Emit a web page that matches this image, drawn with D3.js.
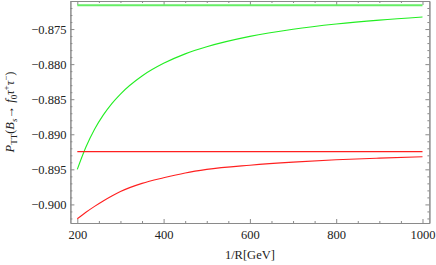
<!DOCTYPE html>
<html>
<head>
<meta charset="utf-8">
<script src="https://cdn.jsdelivr.net/npm/d3@7/dist/d3.min.js"></script>
<style>
    body { margin: 0; background: #fff; }
    svg { display: block; }
    .frame path, .frame line { stroke: #8a8a8a; }
</style>
</head>
<body>
<div id="chart"></div>
<script>
// 1/R in GeV
const greenX = [200, 220, 240, 260, 280, 300, 350, 400, 450, 500, 600, 700, 800, 900, 1000];
const greenY = [-0.89500, -0.89182, -0.88928, -0.88727, -0.88562, -0.88426, -0.88169, -0.87989,
    -0.87854, -0.87752, -0.87604, -0.87503, -0.87429, -0.87373, -0.87329];

const redX = [200, 220, 240, 260, 280, 300, 350, 400, 450, 500, 600, 700, 800, 900, 1000];
const redY = [-0.90204, -0.90112, -0.90028, -0.89951, -0.89880, -0.89816, -0.89700, -0.89620,
    -0.89551, -0.89501, -0.89441, -0.89397, -0.89364, -0.89340, -0.89320];

// flat reference lines
const greenFlat = -0.87161;
const redFlat = -0.89247;

const xTicks = [200, 400, 600, 800, 1000];
const yTicks = [-0.900, -0.895, -0.890, -0.885, -0.880, -0.875];

const serif = '"Liberation Serif", "Times New Roman", "DejaVu Serif", serif';
const width = 436, height = 265;
const margin = {top: 1, right: 6.6, bottom: 42, left: 70.4};

const svg = d3.select('#chart').append('svg')
    .attr('width', width)
    .attr('height', height);

const x = d3.scaleLinear().domain([184, 1016]).range([margin.left, width - margin.right]);
const y = d3.scaleLinear().domain([-0.90265, -0.87100]).range([height - margin.bottom, margin.top]);

const fmtY = d => d3.format('.3f')(d).replace('-', '\u2212');
const xMinor = d3.range(200, 1001, 50).filter(v => v % 200 !== 0);
const yMinor = d3.range(-0.902, -0.8709, 0.001).filter(v => Math.abs(Math.round(v * 1000) % 5) !== 0);

function drawAxis(axis, transform) {
    svg.append('g').attr('class', 'frame').attr('transform', transform).call(axis);
}

const x0 = margin.left, x1 = width - margin.right;
const y0 = height - margin.bottom, y1 = margin.top;

// bottom
drawAxis(d3.axisBottom(x).tickValues(xTicks).tickSizeInner(-4).tickSizeOuter(0).tickPadding(7.5).tickFormat(d3.format('d')), `translate(0,${y0})`);
drawAxis(d3.axisBottom(x).tickValues(xMinor).tickSizeInner(-2).tickSizeOuter(0).tickFormat(''), `translate(0,${y0})`);
// top
drawAxis(d3.axisTop(x).tickValues(xTicks).tickSizeInner(-4).tickSizeOuter(0).tickFormat(''), `translate(0,${y1})`);
drawAxis(d3.axisTop(x).tickValues(xMinor).tickSizeInner(-2).tickSizeOuter(0).tickFormat(''), `translate(0,${y1})`);
// left
drawAxis(d3.axisLeft(y).tickValues(yTicks).tickSizeInner(-4).tickSizeOuter(0).tickPadding(4).tickFormat(fmtY), `translate(${x0},0)`);
drawAxis(d3.axisLeft(y).tickValues(yMinor).tickSizeInner(-2).tickSizeOuter(0).tickFormat(''), `translate(${x0},0)`);
// right
drawAxis(d3.axisRight(y).tickValues(yTicks).tickSizeInner(-4).tickSizeOuter(0).tickFormat(''), `translate(${x1},0)`);
drawAxis(d3.axisRight(y).tickValues(yMinor).tickSizeInner(-2).tickSizeOuter(0).tickFormat(''), `translate(${x1},0)`);

svg.selectAll('.frame')
    .attr('font-family', serif)
    .attr('font-size', 12.5);
svg.selectAll('.frame text').attr('fill', '#222');

const line = d3.line().x(d => x(d[0])).y(d => y(d[1])).curve(d3.curveMonotoneX);

const plot = svg.append('g');

plot.append('path')
    .datum([[200, greenFlat], [1000, greenFlat]])
    .attr('d', line)
    .attr('fill', 'none')
    .attr('stroke', '#66ee66')
    .attr('stroke-width', 2);

plot.append('path')
    .datum(greenX.map((v, i) => [v, greenY[i]]))
    .attr('d', line)
    .attr('fill', 'none')
    .attr('stroke', '#22ee22')
    .attr('stroke-width', 1.1);

plot.append('path')
    .datum([[200, redFlat], [1000, redFlat]])
    .attr('d', line)
    .attr('fill', 'none')
    .attr('stroke', '#ff2020')
    .attr('stroke-width', 1.1);

plot.append('path')
    .datum(redX.map((v, i) => [v, redY[i]]))
    .attr('d', line)
    .attr('fill', 'none')
    .attr('stroke', '#ff2020')
    .attr('stroke-width', 1.1);

// axis labels
svg.append('text')
    .attr('x', (x0 + x1) / 2)
    .attr('y', 259)
    .attr('text-anchor', 'middle')
    .attr('font-family', serif)
    .attr('font-size', 12.5)
    .attr('fill', '#222')
    .text('1/R[GeV]');

const yl = svg.append('text')
    .attr('transform', `translate(14,${(y0 + y1) / 2}) rotate(-90)`)
    .attr('text-anchor', 'middle')
    .attr('font-family', serif)
    .attr('font-size', 12.5)
    .attr('fill', '#222');
yl.append('tspan').attr('font-style', 'italic').text('P');
yl.append('tspan').attr('font-size', 9).attr('dy', 3).text('TT');
yl.append('tspan').attr('dy', -3).text('(');
yl.append('tspan').attr('font-style', 'italic').text('B');
yl.append('tspan').attr('font-size', 9).attr('font-style', 'italic').attr('dy', 3).text('s');
yl.append('tspan').attr('dy', -3).text('\u2192');
yl.append('tspan').attr('font-style', 'italic').text(' f');
yl.append('tspan').attr('font-size', 9).attr('dy', 3).text('0');
yl.append('tspan').attr('font-style', 'italic').attr('dy', -3).text('\u03c4');
yl.append('tspan').attr('font-size', 9).attr('dy', -5).text('+');
yl.append('tspan').attr('font-style', 'italic').attr('dy', 5).text('\u03c4');
yl.append('tspan').attr('font-size', 9).attr('dy', -5).text('\u2212');
yl.append('tspan').attr('dy', 5).text(')');
</script>
</body>
</html>
